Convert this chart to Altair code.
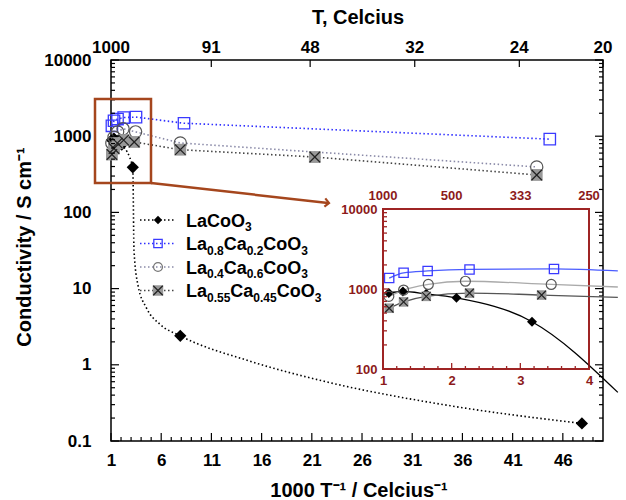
import re
import altair as alt
import pandas as pd

# ---------------- data ----------------
SERIES_NAMES = ["LaCoO3", "La0.8Ca0.2CoO3", "La0.4Ca0.6CoO3", "La0.55Ca0.45CoO3"]

LACOO3_X = [1.085, 1.29, 1.63, 2.07, 3.17, 7.9, 47.9]
LACOO3_Y = [890, 930, 870, 775, 390, 2.4, 0.17]
LA08_X = [1.09, 1.30, 1.65, 2.26, 3.49, 8.27, 44.7]
LA08_Y = [1370, 1595, 1680, 1757, 1780, 1480, 915]
LA04_X = [1.085, 1.30, 1.66, 2.20, 3.45, 7.9, 43.4]
LA04_Y = [810, 970, 1140, 1250, 1140, 815, 395]
LA055_X = [1.09, 1.30, 1.63, 2.26, 3.31, 7.9, 21.3, 43.4]
LA055_Y = [575, 690, 810, 890, 840, 665, 533, 310]

# dotted guide curve drawn for LaCoO3 in the main panel
LACOO3_CURVE_X = [1.085, 1.29, 1.63, 2.07, 3.17, 3.29, 3.69, 4.49, 5.88, 7.9, 14.8, 22.4, 34.8, 47.9]
LACOO3_CURVE_Y = [890, 930, 870, 775, 390, 32, 11, 5.7, 3.4, 2.4, 1.12, 0.60, 0.29, 0.17]

# inset curves run on past x = 4
INSET_TAIL_X = 4.42
INSET_TAIL_Y = [51, 1680, 1060, 785]

# tick values / labels
MAIN_X_MAJOR = [1, 6, 11, 16, 21, 26, 31, 36, 41, 46]
MAIN_X_MINOR = [v for v in range(2, 50) if v not in MAIN_X_MAJOR]
MAIN_Y_MAJOR = [0.1, 1, 10, 100, 1000, 10000]
MAIN_Y_MINOR = [m * 10 ** k for k in range(-1, 4) for m in range(2, 10)]
TOP_T = [1000, 91, 48, 32, 24, 20]
INSET_X_MAJOR = [1, 2, 3, 4]
INSET_X_MINOR = [1.2, 1.4, 1.6, 1.8, 2.2, 2.4, 2.6, 2.8, 3.2, 3.4, 3.6, 3.8]
INSET_Y_MAJOR = [100, 1000, 10000]
INSET_Y_MINOR = [m * 10 ** k for k in range(2, 4) for m in range(2, 10)]
INSET_TOP_T = [1000, 500, 333, 250]

# ---------------- layout / style ----------------
FONT = "Liberation Sans"
W, H = 492, 381
PAD = {"left": 111, "top": 60, "right": 23, "bottom": 59}
IX0, IX1 = 272, 478          # inset plot range (px, relative to plot origin)
IYB, IYT = 309, 149
RED = "#9e2424"
RED_TXT = "#8c1a1a"
BROWN = "#a5461d"
BLUE_DOT = "#2f2fff"
BLUE_LINE = "#4a5cff"
BLUE_MK = "#3a3aff"
GRAYBLUE = "#8a8aa8"
DARK = "#444444"
X_PATH = "M-1,-1L1,1M1,-1L-1,1"
CHEVRON = "M-1,-1L0,0L-1,1"
DOT = [1.5, 2.5]

MX_SCALE = alt.Scale(domain=[1, 50], nice=False, zero=False)
MY_SCALE = alt.Scale(type="log", domain=[0.1, 10000], nice=False)
IX_SCALE = alt.Scale(domain=[1, 4], range=[IX0, IX1], nice=False, zero=False)
IY_SCALE = alt.Scale(type="log", domain=[100, 10000], range=[IYB, IYT], nice=False)

MX_AXIS = alt.Axis(values=MAIN_X_MAJOR, ticks=False, domain=False, grid=False, title=None,
                   labelFont=FONT, labelFontWeight="bold", labelFontSize=17, labelColor="black",
                   labelPadding=11, labelFlush=False, labelOverlap=False, format="d")
MY_AXIS = alt.Axis(values=MAIN_Y_MAJOR, ticks=False, domain=False, grid=False, title=None,
                   labelFont=FONT, labelFontWeight="bold", labelFontSize=17, labelColor="black",
                   labelPadding=20, labelOverlap=False, format="~g")
IX_AXIS = alt.Axis(values=INSET_X_MAJOR, orient="bottom", offset=-(H - IYB), ticks=False, domain=False,
                   grid=False, title=None, labelFont=FONT, labelFontWeight="bold", labelFontSize=13,
                   labelColor=RED_TXT, labelPadding=5, labelFlush=False, labelOverlap=False, format="d")
IY_AXIS = alt.Axis(values=INSET_Y_MAJOR, orient="left", offset=-IX0, ticks=False, domain=False,
                   grid=False, title=None, labelFont=FONT, labelFontWeight="bold", labelFontSize=13,
                   labelColor=RED_TXT, labelPadding=6, labelOverlap=False, format="d")


def MX(f):
    return alt.X(f, type="quantitative", scale=MX_SCALE, axis=MX_AXIS)


def MY(f):
    return alt.Y(f, type="quantitative", scale=MY_SCALE, axis=MY_AXIS)


def IX(f):
    return alt.X(f, type="quantitative", scale=IX_SCALE, axis=IX_AXIS)


def IY(f):
    return alt.Y(f, type="quantitative", scale=IY_SCALE, axis=IY_AXIS)


def xy(xs, ys):
    return pd.DataFrame({"x": xs, "y": ys})


def inset_xy(xs, ys, tail):
    px = [a for a in xs if a <= 4] + [INSET_TAIL_X]
    py = [b for a, b in zip(xs, ys) if a <= 4] + [tail]
    return xy(px, py)


ONE = pd.DataFrame({"a": [0]})

# ---------------- main panel ----------------
main = []
main.append(alt.Chart(xy(LACOO3_CURVE_X, LACOO3_CURVE_Y)).mark_line(
    color="black", strokeDash=DOT, strokeWidth=1.6, interpolate="monotone").encode(x=MX("x"), y=MY("y")))
for xs, ys, col in [(LA08_X, LA08_Y, BLUE_DOT), (LA04_X, LA04_Y, GRAYBLUE), (LA055_X, LA055_Y, DARK)]:
    main.append(alt.Chart(xy(xs, ys)).mark_line(color=col, strokeDash=DOT, strokeWidth=1.6).encode(
        x=MX("x"), y=MY("y")))


def markers(df, scale_x, scale_y, kind, big):
    s = 1.0 if big else 0.66
    enc = dict(x=scale_x("x"), y=scale_y("y"))
    if kind == 0:
        return [alt.Chart(df).mark_point(shape="diamond", filled=True, color="black", size=150 * s,
                                         opacity=1).encode(**enc)]
    if kind == 1:
        return [alt.Chart(df).mark_point(shape="square", filled=False, color=BLUE_MK, strokeWidth=1.3,
                                         size=130 * s, opacity=1).encode(**enc)]
    if kind == 2:
        return [alt.Chart(df).mark_point(shape="circle", filled=False, color="#555555", strokeWidth=1.2,
                                         size=150 * s, opacity=1).encode(**enc)]
    return [alt.Chart(df).mark_point(shape="square", filled=True, color="#999999", size=140 * s,
                                     opacity=1).encode(**enc),
            alt.Chart(df).mark_point(shape=X_PATH, filled=False, color="#222222", strokeWidth=1.2,
                                     size=110 * s, opacity=1).encode(**enc)]


SERIES = [(LACOO3_X, LACOO3_Y), (LA08_X, LA08_Y), (LA04_X, LA04_Y), (LA055_X, LA055_Y)]
for k, (xs, ys) in enumerate(SERIES):
    main += markers(xy(xs, ys), MX, MY, k, True)


def xticks(values, y0, y1, sx, color="black", width=1.2):
    return alt.Chart(pd.DataFrame({"v": values})).mark_rule(color=color, strokeWidth=width).encode(
        x=sx("v"), y=alt.value(y0), y2=alt.value(y1))


def yticks(values, x0, x1, sy, color="black", width=1.2):
    return alt.Chart(pd.DataFrame({"v": values})).mark_rule(color=color, strokeWidth=width).encode(
        y=sy("v"), x=alt.value(x0), x2=alt.value(x1))


main.append(xticks(MAIN_X_MAJOR, H, H - 8, MX))
main.append(xticks(MAIN_X_MINOR, H, H - 4, MX))
main.append(yticks(MAIN_Y_MAJOR, 0, 8, MY))
main.append(yticks(MAIN_Y_MINOR, 0, 4, MY))
main.append(yticks(MAIN_Y_MAJOR, W, W - 8, MY))
main.append(yticks(MAIN_Y_MINOR, W, W - 4, MY))
top_df = pd.DataFrame({"T": TOP_T})
main.append(alt.Chart(top_df).transform_calculate(x="1000/datum.T").mark_rule(
    color="black", strokeWidth=1.2).encode(x=MX("x"), y=alt.value(0), y2=alt.value(7)))
main.append(alt.Chart(top_df).transform_calculate(x="1000/datum.T").mark_text(
    font=FONT, fontWeight="bold", fontSize=17, baseline="middle", color="black").encode(
    x=MX("x"), y=alt.value(-12), text=alt.Text("T:Q", format="d")))

# titles
main.append(alt.Chart(ONE).mark_text(text="T, Celcius", font=FONT, fontWeight="bold", fontSize=20,
                                     baseline="middle", align="center").encode(
    x=alt.value(247), y=alt.value(-42)))
main.append(alt.Chart(ONE).mark_text(text="1000 T⁻¹ / Celcius⁻¹", font=FONT, fontWeight="bold",
                                     fontSize=20, baseline="middle", align="center").encode(
    x=alt.value(248), y=alt.value(431)))
main.append(alt.Chart(ONE).mark_text(text="Conductivity / S cm⁻¹", font=FONT, fontWeight="bold",
                                     fontSize=20, baseline="middle", align="center", angle=270).encode(
    x=alt.value(-86), y=alt.value(187)))

# highlight box and arrow
main.append(alt.Chart(ONE).mark_rect(fillOpacity=0, stroke=BROWN, strokeWidth=2.5).encode(
    x=alt.value(-16), x2=alt.value(40), y=alt.value(39), y2=alt.value(123)))
main.append(alt.Chart(ONE).mark_rule(color=BROWN, strokeWidth=2.5).encode(
    x=alt.value(40), x2=alt.value(217), y=alt.value(123), y2=alt.value(143)))
main.append(alt.Chart(ONE).mark_point(shape=CHEVRON, filled=False, color=BROWN, strokeWidth=2.2,
                                      size=70, angle=6.4, opacity=1).encode(
    x=alt.value(218), y=alt.value(143)))

# legend
WID = {"L": 0.611, "a": 0.556, "C": 0.722, "o": 0.611, "O": 0.778, ".": 0.278}
LEG_ROWS = [160, 183.5, 207, 230.5]
LEG_COLORS = ["black", BLUE_DOT, GRAYBLUE, DARK]
LEG_MK = [
    dict(shape="diamond", filled=True, color="black", size=70),
    dict(shape="square", filled=False, color=BLUE_MK, size=70, strokeWidth=1.3),
    dict(shape="circle", filled=False, color="#777777", size=80, strokeWidth=1.2),
]
for k, name in enumerate(SERIES_NAMES):
    ry = LEG_ROWS[k]
    main.append(alt.Chart(ONE).mark_rule(color=LEG_COLORS[k], strokeDash=DOT, strokeWidth=1.6).encode(
        x=alt.value(29), x2=alt.value(65), y=alt.value(ry)))
    if k < 3:
        main.append(alt.Chart(ONE).mark_point(opacity=1, **LEG_MK[k]).encode(
            x=alt.value(47), y=alt.value(ry)))
    else:
        main.append(alt.Chart(ONE).mark_point(shape="square", filled=True, color="#999999", size=110,
                                              opacity=1).encode(x=alt.value(47), y=alt.value(ry)))
        main.append(alt.Chart(ONE).mark_point(shape=X_PATH, filled=False, color="#222222", size=90,
                                              strokeWidth=1.2, opacity=1).encode(
            x=alt.value(47), y=alt.value(ry)))
    px = 75.0
    for seg in re.findall(r"[A-Za-z]+|[0-9.]+", name):
        sub = seg[0].isdigit()
        fs = 12 if sub else 18
        main.append(alt.Chart(ONE).mark_text(text=seg, font=FONT, fontWeight="bold", fontSize=fs,
                                             align="left", baseline="alphabetic", color="black").encode(
            x=alt.value(px), y=alt.value(ry + (11 if sub else 6.5))))
        px += sum(WID.get(c, 0.556) for c in seg) * fs

main_layer = alt.layer(*main)

# ---------------- inset ----------------
ins = []
frame = pd.DataFrame({"x0": [1], "x1": [4], "y0": [100], "y1": [10000]})
ins.append(alt.Chart(frame).mark_rect(fill="white", stroke=RED, strokeWidth=2).encode(
    x=IX("x0"), x2="x1", y=IY("y0"), y2="y1"))
INSET_COLORS = ["black", BLUE_LINE, "#aaaaaa", "#555555"]
for k, (xs, ys) in enumerate(SERIES):
    ins.append(alt.Chart(inset_xy(xs, ys, INSET_TAIL_Y[k])).mark_line(
        color=INSET_COLORS[k], strokeWidth=1.3, interpolate="monotone").encode(x=IX("x"), y=IY("y")))
for k, (xs, ys) in enumerate(SERIES):
    d = xy([a for a in xs if a <= 4], [b for a, b in zip(xs, ys) if a <= 4])
    ins += markers(d, IX, IY, k, False)
ins.append(xticks(INSET_X_MAJOR, IYB, IYB - 6, IX, RED, 1.3))
ins.append(xticks(INSET_X_MINOR, IYB, IYB - 3, IX, RED, 1.3))
ins.append(yticks(INSET_Y_MAJOR, IX0, IX0 + 6, IY, RED, 1.3))
ins.append(yticks(INSET_Y_MINOR, IX0, IX0 + 4, IY, RED, 1.3))
itop = pd.DataFrame({"T": INSET_TOP_T})
ins.append(alt.Chart(itop).transform_calculate(x="1000/datum.T").mark_text(
    font=FONT, fontWeight="bold", fontSize=13, baseline="middle", color=RED_TXT).encode(
    x=IX("x"), y=alt.value(IYT - 13), text=alt.Text("T:Q", format="d")))
inset_layer = alt.layer(*ins)

chart = alt.layer(main_layer, inset_layer).resolve_scale(x="independent", y="independent").properties(
    width=W, height=H, padding=PAD, autosize=alt.AutoSizeParams(type="none"), background="white"
).configure_view(stroke="black", strokeWidth=1.5).configure_axis(grid=False)

chart.save("out.html", embed_options={"renderer": "svg", "actions": False})
